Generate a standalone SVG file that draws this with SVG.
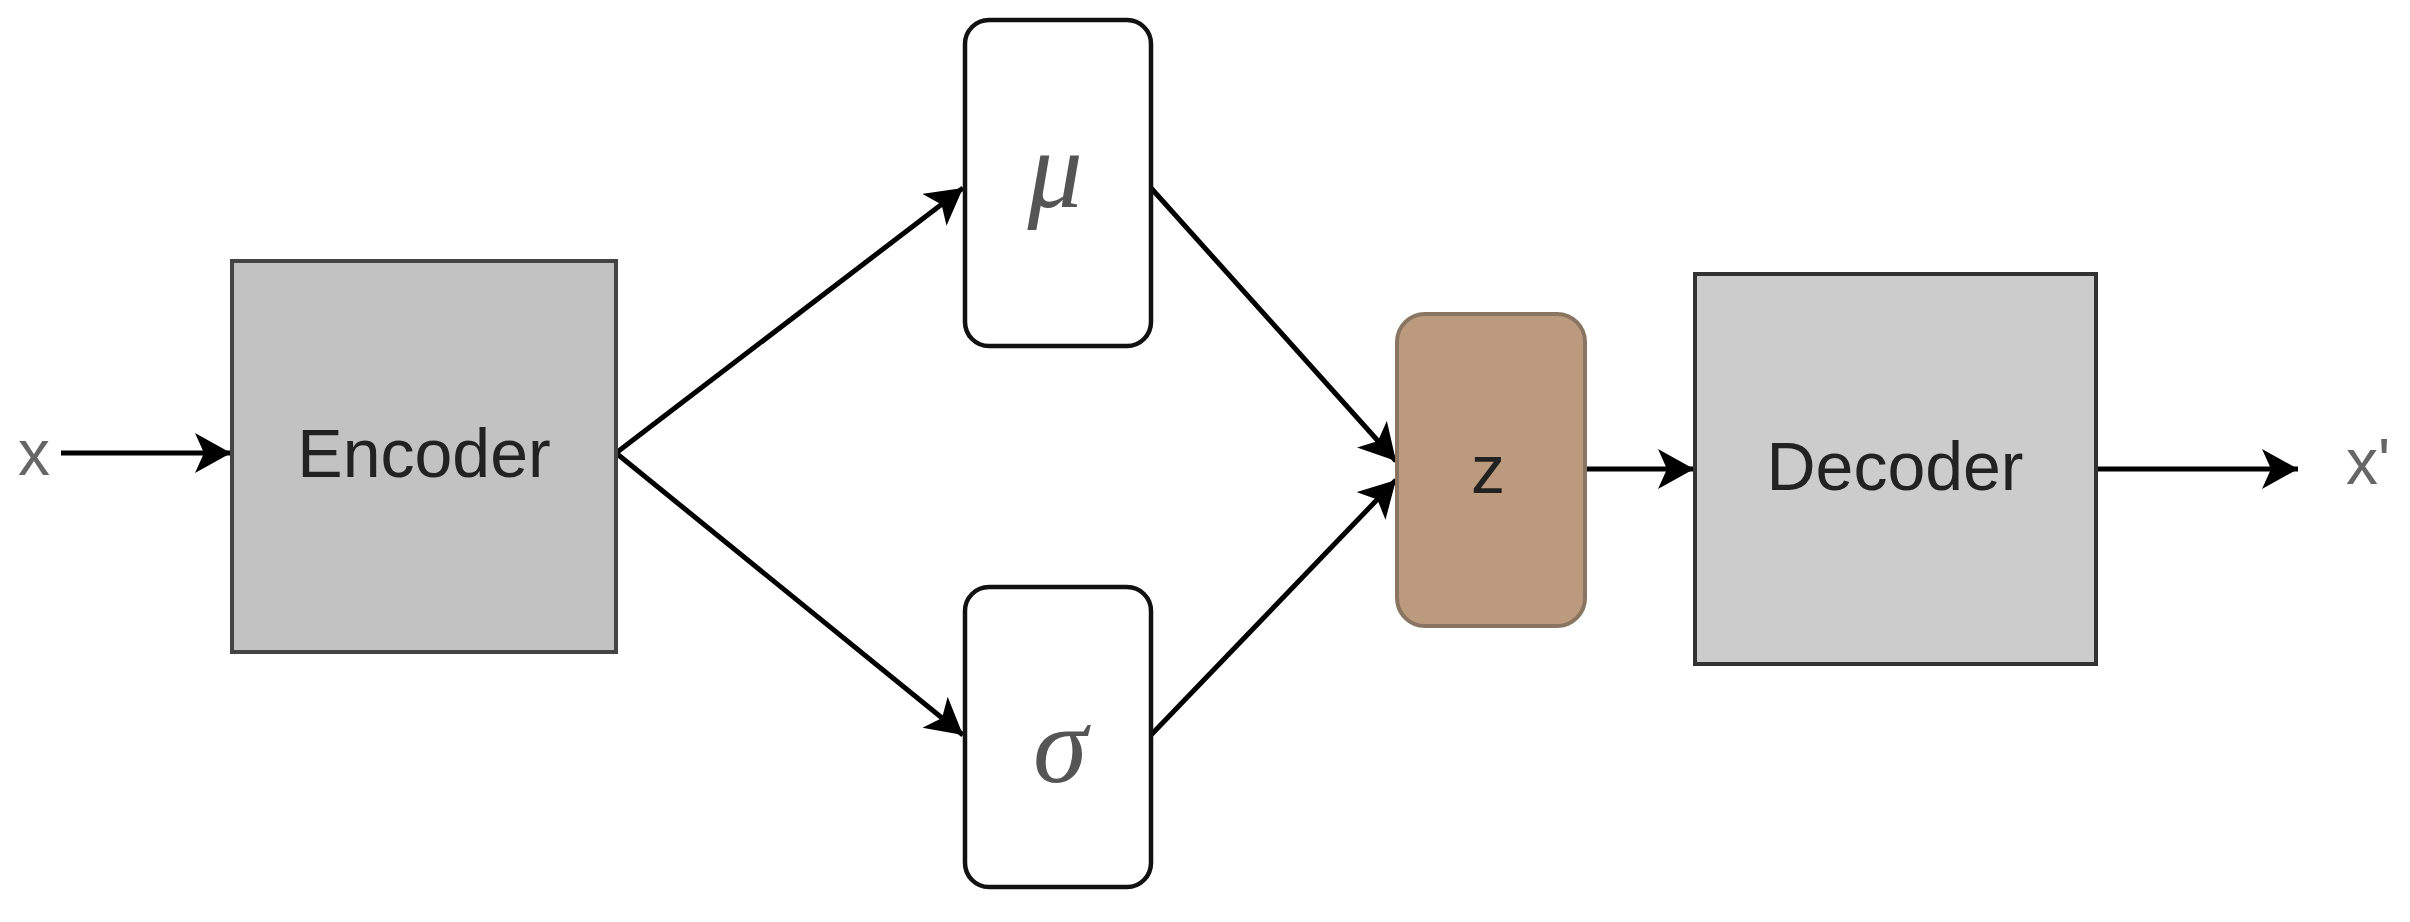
<svg xmlns="http://www.w3.org/2000/svg" width="2410" height="922" viewBox="0 0 2410 922">
<style>
text{font-family:"Liberation Sans",Arial,sans-serif;text-anchor:middle;dominant-baseline:central}
.lbl{font-size:68px;fill:#222}
.io{font-size:64px;fill:#666}
.gr{font-family:"Liberation Serif","Times New Roman",serif;font-style:italic;font-size:110px;fill:#555}
.e{stroke:#000;stroke-width:5;fill:none;marker-end:url(#ah)}
.w{fill:#fff;stroke:#111;stroke-width:4.5}
</style>
<defs>
<marker id="ah" markerUnits="userSpaceOnUse" markerWidth="44" markerHeight="44" refX="36" refY="20" orient="auto">
<path d="M0,0 L36,20 L0,40 L9,20 Z" fill="#000"/>
</marker>
</defs>
<rect width="2410" height="922" fill="#fff"/>
<g id="edges">
<path class="e" d="M61,453 L231,453"/>
<path class="e" d="M616,453 L963,188"/>
<path class="e" d="M616,453 L963,735"/>
<path class="e" d="M1151,188 L1396,461"/>
<path class="e" d="M1151,735 L1396,480"/>
<path class="e" d="M1585,469 L1694,469"/>
<path class="e" d="M2096,469 L2298,469"/>
</g>
<g id="x"><text class="io" x="34" y="453">x</text></g>
<g id="encoder"><rect x="232" y="261" width="384" height="391" fill="#c2c2c2" stroke="#444" stroke-width="4"/><text class="lbl" x="424" y="453">Encoder</text></g>
<g id="mu"><rect class="w" x="965" y="20" width="186" height="326" rx="24"/><text class="gr" x="1055" y="170">μ</text></g>
<g id="sigma"><rect class="w" x="965" y="587" width="186" height="300" rx="24"/><text class="gr" x="1060" y="745">σ</text></g>
<g id="z"><rect x="1397" y="314" width="188" height="312" rx="28" fill="#bc9a7e" stroke="#8a7563" stroke-width="4"/><text class="lbl" x="1488" y="469">z</text></g>
<g id="decoder"><rect x="1695" y="274" width="401" height="390" fill="#cccccc" stroke="#333" stroke-width="4"/><text class="lbl" x="1895" y="466">Decoder</text></g>
<g id="xprime"><text class="io" x="2368" y="462">x'</text></g>
</svg>
